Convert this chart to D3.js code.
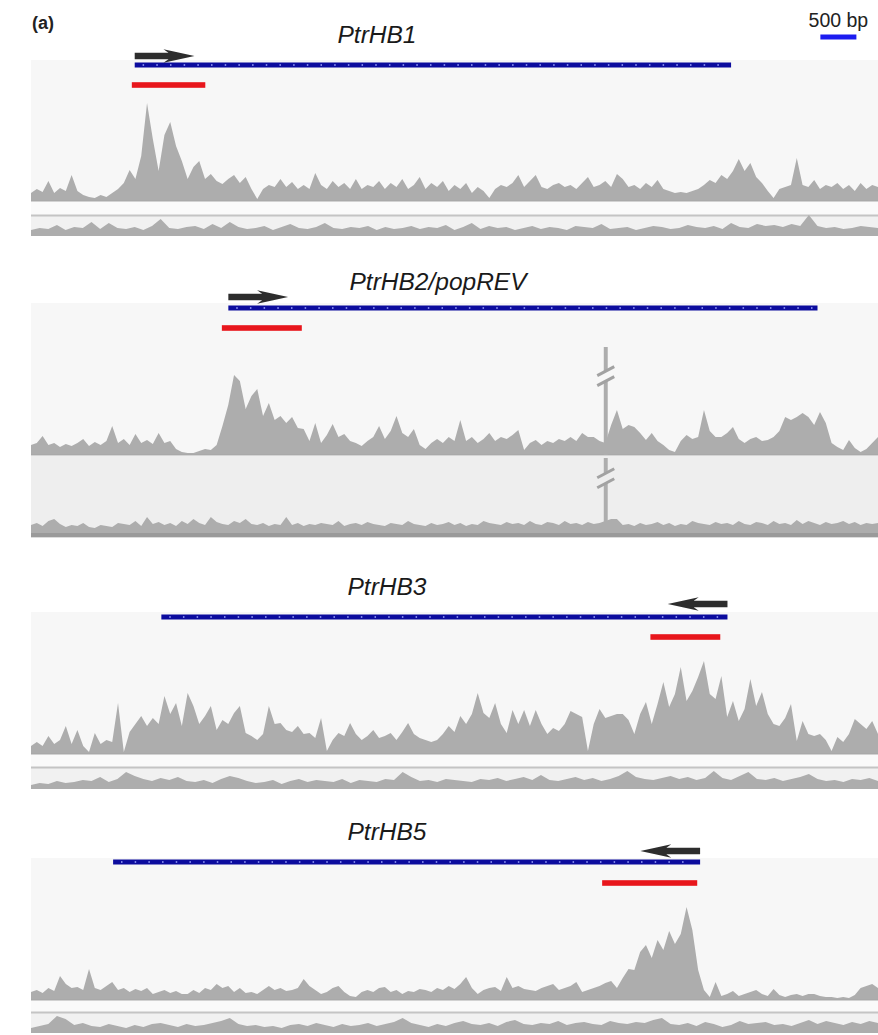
<!DOCTYPE html>
<html><head><meta charset="utf-8">
<script src="https://cdn.jsdelivr.net/npm/d3@7"></script>
<style>body{margin:0;background:#fff} svg{display:block}</style>
</head><body>
<svg id="c" width="878" height="1035"></svg>
<script>
// ---------- data (genomic positions in kb from left edge of window) ----------
const panelLabel = "(a)";
const genes = ["PtrHB1", "PtrHB2/popREV", "PtrHB3", "PtrHB5"];
const strands = ["+", "+", "-", "-"];
const geneStartKb = [1.44, 2.74, 1.81, 1.14];
const geneEndKb   = [9.72, 10.92, 9.67, 9.29];
const arrowLenKb = 0.83;
const peakStartKb = [1.40, 2.65, 8.60, 7.93];
const peakEndKb   = [2.42, 3.76, 9.57, 9.25];
const windowKb = 11.76;
const scaleBarStartKb = 10.96, scaleBarKb = 0.5, scaleBarLabel = "500 bp";

// ChIP coverage (bins across the window)
const chip1 = [8,12,9,20,8,13,10,26,10,6,4,3,6,4,8,12,18,31,22,45,98,62,30,66,79,55,40,22,34,40,
22,27,20,17,22,26,18,24,12,2,12,16,14,22,14,19,12,16,12,28,16,12,20,14,18,12,22,12,16,14,
20,12,18,14,22,12,16,24,12,18,14,20,10,16,12,18,8,14,10,3,12,16,14,18,26,14,20,26,14,12,
16,18,14,16,12,18,24,14,16,20,14,27,22,14,16,12,18,14,21,12,10,8,9,8,10,12,16,21,18,26,
22,30,42,30,38,24,18,10,3,12,14,16,43,16,14,21,12,16,14,18,12,16,10,18,12,16,14];
const chip2 = [10,12,19,10,12,8,11,9,12,16,9,13,10,14,29,12,16,10,21,12,15,11,22,12,14,6,3,2,2,4,
6,5,10,29,50,80,74,46,59,66,39,52,35,39,32,38,27,26,14,32,12,20,31,18,21,14,12,9,14,18,
29,16,24,39,22,18,26,10,6,12,16,12,18,14,35,14,18,12,16,22,14,18,16,20,25,5,12,15,10,14,
12,16,14,18,14,22,18,18,14,12,30,45,26,30,28,22,15,22,14,10,5,3,14,20,16,18,45,24,18,18,
22,28,16,12,16,18,14,15,18,24,38,35,38,42,38,30,43,32,12,8,5,15,7,3,6,12,18];
const chip3 = [8,12,8,18,10,14,28,10,24,8,2,21,10,14,12,51,2,22,30,38,28,36,30,58,40,51,28,61,48,30,
38,48,24,34,30,41,48,21,18,14,20,48,30,31,24,22,28,20,21,16,36,3,14,21,18,31,20,14,18,24,
16,18,21,14,22,31,20,16,14,12,14,20,28,22,38,30,40,61,41,36,51,30,21,44,30,44,28,44,30,20,
26,23,30,43,40,37,3,30,45,36,38,40,40,34,20,40,52,30,50,72,47,60,87,53,63,77,93,60,55,78,
37,53,33,45,75,48,62,40,30,28,36,50,13,33,20,18,20,14,3,17,12,20,35,30,25,33,20];
const chip4 = [8,10,7,12,9,24,16,12,13,10,31,12,10,14,18,10,12,8,11,9,12,6,8,10,7,9,6,6,10,7,
12,10,16,12,14,8,12,7,8,6,10,14,10,12,9,10,12,21,14,10,6,8,12,14,8,4,3,8,10,8,
12,13,8,10,6,9,8,11,10,8,12,10,14,11,16,23,12,6,10,12,13,9,23,12,14,11,10,9,12,14,
16,10,12,14,18,8,10,12,14,17,19,12,22,31,30,48,55,42,60,50,69,56,66,93,70,30,10,3,18,4,
6,9,4,6,8,10,6,4,11,5,3,5,6,4,6,6,4,3,3,2,3,2,5,12,14,16,12];

// Input (control) coverage
const ctrl1 = [6,8,7,11,6,9,8,14,7,13, 8,7,9,6,10,17,8,7,9,10, 7,12,8,14,9,7,8,10,6,9,
12,8,7,9,13,8,7,9,8,10, 6,9,7,8,10,7,9,8,11,6, 9,13,7,10,8,9,6,8,10,7,
9,8,6,10,9,8,12,7,8,9, 6,8,10,9,7,8,11,9,8,10, 7,13,9,8,12,10,11,9,12,10, 21,10,8,9,7,8,10,9,8];
const ctrl2 = [8,10,7,12,14,9,6,8,7,10,6,5,8,7,6,10,9,8,12,7,
16,9,11,8,10,7,12,9,14,10,8,16,11,9,8,12,10,14,9,8,
10,7,9,8,16,8,10,7,9,8,10,9,8,12,7,9,10,8,11,9,
8,7,10,9,8,12,9,8,7,10,8,9,11,8,10,7,9,8,12,10,
9,8,11,9,10,8,12,9,8,11,10,8,12,9,10,8,11,9,10,12,
14,
14,8,9,7,10,8,9,11,8,10,7,9,8,12,10,9,8,11,9,10,
8,12,9,8,11,10,8,12,9,10,8,13,9,12,10,8,11,9,10,12,
9,11,8,10,9,10];
const ctrl3 = [4,6,5,8,6,7,9,8,12,7, 10,17,13,10,8,11,9,12,8,7, 9,6,10,13,11,8,6,7,9,5,
8,10,7,9,8,7,10,6,9,8, 7,10,9,17,12,8,9,7,10,9, 8,7,10,9,11,8,10,12,9,14,
9,8,10,12,9,11,8,10,13,18, 12,10,9,11,13,10,12,9,11,18, 11,9,13,17,10,9,11,8,10,12, 15,10,8,9,7,10,9,11,8];
const ctrl4 = [5,7,9,17,14,8,10,7,6,9, 7,5,8,6,9,10,8,6,9,7, 8,10,12,15,9,7,8,6,7,5,
8,9,7,10,8,6,9,7,8,10, 7,9,11,15,10,8,6,9,7,10, 12,9,8,10,7,11,13,9,8,10,
9,12,8,10,11,9,8,12,10,9, 11,10,13,15,9,8,10,7,11,9, 6,8,12,9,10,11,8,9,7,10, 13,9,12,10,8,11,9,12,10];

// off-scale artefact spike in the PtrHB2 window (shown with axis breaks)
const spikeKb = 7.98, spikeWidthKb = 0.055;
const spikeChip = 108, spikeCtrl = 75;

const chipData = [chip1, chip2, chip3, chip4];
const ctrlData = [ctrl1, ctrl2, ctrl3, ctrl4];

// ---------- layout ----------
const layout = [
  {tx:377, ty:43,  arrowY:56,  geneY:65,  redY:85,  bgTop:60,  chipBase:201, sep:215, ctrlBase:236},
  {tx:438, ty:290, arrowY:297, geneY:308, redY:328, bgTop:303, chipBase:455, sep:456, ctrlBase:533, breakAxis:true},
  {tx:387, ty:595, arrowY:604, geneY:617, redY:637, bgTop:612, chipBase:754, sep:767, ctrlBase:789},
  {tx:387, ty:840, arrowY:851, geneY:862, redY:883, bgTop:858, chipBase:1000, sep:1012, ctrlBase:1033}
];
const L = 31, R = 878;
const FILL = "#adadad", GENE = "#0c0c9e", RED = "#e8161c", ARROW = "#2d2d2d";
const FONT = "'Liberation Sans', Arial, sans-serif";

const svg = d3.select("#c");
svg.append("rect").attr("width", 878).attr("height", 1035).attr("fill", "#fff");
const x = d3.scaleLinear().domain([0, windowKb]).range([L, R]);

svg.append("text").attr("x", 32).attr("y", 29).attr("font-family", FONT)
  .attr("font-weight", "bold").attr("font-size", 18).attr("fill", "#222").text(panelLabel);
svg.append("text").attr("x", x(scaleBarStartKb + scaleBarKb / 2)).attr("y", 27)
  .attr("text-anchor", "middle").attr("font-family", FONT).attr("font-size", 19.5)
  .attr("fill", "#222").text(scaleBarLabel);
svg.append("rect").attr("x", x(scaleBarStartKb)).attr("y", 34.5)
  .attr("width", x(scaleBarStartKb + scaleBarKb) - x(scaleBarStartKb)).attr("height", 5)
  .attr("fill", "#1c1cf0");

genes.forEach((name, p) => {
  const lo = layout[p];
  const g = svg.append("g");
  // backgrounds
  g.append("rect").attr("x", L).attr("y", lo.bgTop).attr("width", R - L)
    .attr("height", lo.chipBase - lo.bgTop).attr("fill", "#f7f7f7");
  if (lo.breakAxis) {
    g.append("rect").attr("x", L).attr("y", lo.sep).attr("width", R - L)
      .attr("height", lo.ctrlBase - lo.sep).attr("fill", "#eeeeee");
  } else {
    g.append("rect").attr("x", L).attr("y", lo.chipBase).attr("width", R - L)
      .attr("height", lo.sep - lo.chipBase).attr("fill", "#fafafa");
    g.append("rect").attr("x", L).attr("y", lo.sep).attr("width", R - L)
      .attr("height", lo.ctrlBase - lo.sep).attr("fill", "#f1f1f1");
    g.append("rect").attr("x", L).attr("y", lo.sep - 0.5).attr("width", R - L)
      .attr("height", 2).attr("fill", "#c4c4c4");
  }

  // title
  g.append("text").attr("x", lo.tx).attr("y", lo.ty).attr("text-anchor", "middle")
    .attr("font-family", FONT).attr("font-style", "italic").attr("font-size", 24.5)
    .attr("fill", "#1a1a1a").text(name);

  // ChIP coverage
  const chip = chipData[p];
  const binC = windowKb / (chip.length - 1);
  const yc = d3.scaleLinear().domain([0, 100]).range([lo.chipBase, lo.chipBase - 100]);
  g.append("path").datum(chip)
    .attr("d", d3.area().x((d, i) => x(i * binC)).y0(lo.chipBase).y1(d => yc(d)))
    .attr("fill", FILL);
  g.append("rect").attr("x", L).attr("y", lo.chipBase - 1).attr("width", R - L)
    .attr("height", 1.5).attr("fill", "#a9a9a9");

  // control coverage
  const ctrl = ctrlData[p];
  const binK = windowKb / (ctrl.length - 1);
  const yk = d3.scaleLinear().domain([0, lo.ctrlBase - lo.sep]).range([lo.ctrlBase, lo.sep]);
  g.append("path").datum(ctrl)
    .attr("d", d3.area().x((d, i) => x(i * binK)).y0(lo.ctrlBase).y1(d => yk(d)))
    .attr("fill", FILL);

  if (lo.breakAxis) {
    g.append("rect").attr("x", L).attr("y", lo.ctrlBase).attr("width", R - L)
      .attr("height", 4).attr("fill", "#9a9a9a");
    g.append("rect").attr("x", L).attr("y", lo.ctrlBase + 4).attr("width", R - L)
      .attr("height", 1).attr("fill", "#dcdcdc");
    // thin off-scale spike
    const sx0 = x(spikeKb - spikeWidthKb / 2), sw = x(spikeKb + spikeWidthKb / 2) - sx0;
    g.append("rect").attr("x", sx0).attr("y", yc(spikeChip)).attr("width", sw)
      .attr("height", lo.chipBase - yc(spikeChip)).attr("fill", FILL);
    g.append("rect").attr("x", sx0).attr("y", yk(spikeCtrl)).attr("width", sw)
      .attr("height", lo.ctrlBase - yk(spikeCtrl)).attr("fill", FILL);
    // axis-break marks
    const marks = [
      {cx: x(spikeKb), cy: yc(spikeChip * 0.73), bg: "#f7f7f7"},
      {cx: x(spikeKb), cy: yk(spikeCtrl * 0.73), bg: "#eeeeee"}
    ];
    marks.forEach(m => {
      const w = 8.5, s = 4.5, gap = 5;
      g.append("path")
        .attr("d", `M${m.cx - w},${m.cy + s - gap} L${m.cx + w},${m.cy - s - gap} L${m.cx + w},${m.cy - s + gap} L${m.cx - w},${m.cy + s + gap} Z`)
        .attr("fill", m.bg);
      [-gap, gap].forEach(o => {
        g.append("line").attr("x1", m.cx - w).attr("y1", m.cy + s + o)
          .attr("x2", m.cx + w).attr("y2", m.cy - s + o)
          .attr("stroke", "#a2a2a2").attr("stroke-width", 3);
      });
    });
  }

  // gene model
  const gx0 = x(geneStartKb[p]), gx1 = x(geneEndKb[p]);
  g.append("rect").attr("x", gx0).attr("y", lo.geneY - 2.5).attr("width", gx1 - gx0)
    .attr("height", 5).attr("fill", GENE);
  const ticks = d3.range(geneStartKb[p] + 0.12, geneEndKb[p] - 0.05, 0.19);
  g.selectAll(null).data(ticks).join("rect")
    .attr("x", d => x(d) - 0.75).attr("y", lo.geneY - 0.75).attr("width", 1.5).attr("height", 1.5)
    .attr("fill", "#9fa8ff");

  // transcription direction arrow
  const plus = strands[p] === "+";
  const a0 = plus ? x(geneStartKb[p]) : x(geneEndKb[p]);
  const a1 = plus ? x(geneStartKb[p] + arrowLenKb) : x(geneEndKb[p] - arrowLenKb);
  const dir = plus ? 1 : -1, head = 26, ay = lo.arrowY;
  const hb = a1 - dir * head;
  g.append("path")
    .attr("d", `M${a0},${ay - 3.3} L${hb},${ay - 3.3} L${hb - dir * 5},${ay - 6.8} L${a1},${ay} L${hb - dir * 5},${ay + 6.8} L${hb},${ay + 3.3} L${a0},${ay + 3.3} Z`)
    .attr("fill", ARROW);

  // ChIP-qPCR / peak region bar
  g.append("rect").attr("x", x(peakStartKb[p])).attr("y", lo.redY - 2.8)
    .attr("width", x(peakEndKb[p]) - x(peakStartKb[p])).attr("height", 5.6).attr("fill", RED);
});
</script>
</body></html>
